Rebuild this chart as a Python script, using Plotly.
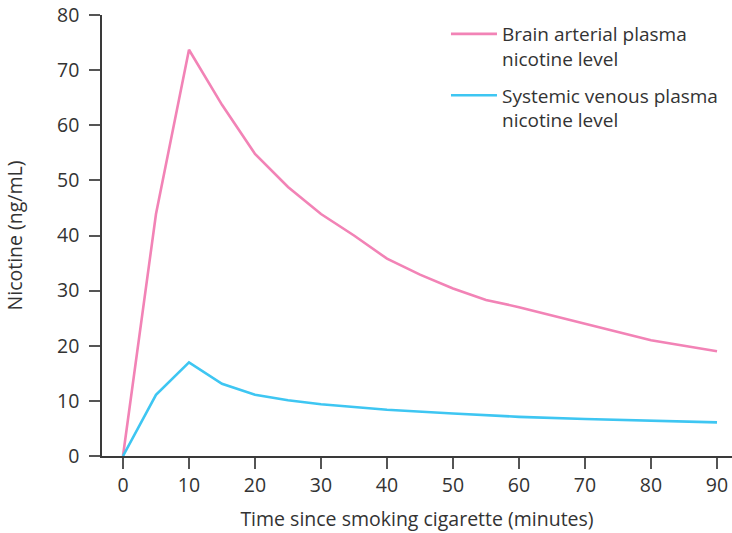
import plotly.graph_objects as go

time_min = [0, 5, 10, 15, 20, 25, 30, 35, 40, 45, 50, 55, 60, 70, 80, 90]
brain_arterial = [0, 43.9, 73.7, 63.7, 54.8, 48.8, 43.9, 40.0, 35.8, 32.9, 30.4, 28.3, 27.0, 24.0, 21.0, 19.0]
venous_time = [0, 5, 10, 15, 20, 25, 30, 40, 50, 60, 70, 80, 90]
systemic_venous = [0, 11.1, 17.0, 13.1, 11.1, 10.1, 9.4, 8.4, 7.7, 7.1, 6.7, 6.4, 6.1]

series_names = ["Brain arterial plasma<br>nicotine level", "Systemic venous plasma<br>nicotine level"]
colors = ["#F283B6", "#3EC6F2"]
x_ticks = [0, 10, 20, 30, 40, 50, 60, 70, 80, 90]
y_ticks = [0, 10, 20, 30, 40, 50, 60, 70, 80]

font_family = "Open Sans, Noto Sans, sans-serif"
text_color = "#333333"

fig = go.Figure()
fig.add_trace(go.Scatter(x=time_min, y=brain_arterial, mode="lines", name=series_names[0],
                         legendgroup="a", line=dict(color=colors[0], width=2.6)))
fig.add_trace(go.Scatter(x=venous_time, y=systemic_venous, mode="lines", name=series_names[1],
                         legendgroup="b", line=dict(color=colors[1], width=2.6)))

fig.update_layout(
    width=732, height=533,
    margin=dict(l=102, r=0, t=15, b=77, autoexpand=False),
    paper_bgcolor="white", plot_bgcolor="white",
    font=dict(family=font_family, size=19, color=text_color),
    showlegend=True,
    legend=dict(x=0.546, y=1.0, xanchor="left", yanchor="top",
                font=dict(size=19, color=text_color), valign="top",
                bgcolor="rgba(0,0,0,0)", tracegroupgap=9, itemwidth=46),
)
fig.update_xaxes(range=[-3.18, 92.27], tickvals=x_ticks, showgrid=False, zeroline=False,
                 showline=True, linecolor="#3a3a3a", linewidth=1.5,
                 ticks="outside", ticklen=11, tickcolor="#555555", tickwidth=1.5,
                 tickfont=dict(size=19.5),
                 title=dict(text="Time since smoking cigarette (minutes)", standoff=15,
                            font=dict(size=19.5)),
                 ticklabelstandoff=0, automargin=False, ticklabeloverflow="allow")
fig.update_yaxes(range=[0, 80], tickvals=y_ticks, showgrid=False, zeroline=False,
                 showline=True, linecolor="#3a3a3a", linewidth=1.5,
                 ticks="outside", ticklen=11, tickcolor="#555555", tickwidth=1.5,
                 tickfont=dict(size=19.5),
                 title=dict(text="Nicotine (ng/mL)", standoff=29, font=dict(size=19.5)),
                 ticklabelstandoff=6, automargin=False, ticklabeloverflow="allow")

# remove the browser's default 8px body margin so the figure sits at the page origin
fig.write_html("out.html", config={"displayModeBar": False},
               post_script="document.body.style.margin='0px';")
